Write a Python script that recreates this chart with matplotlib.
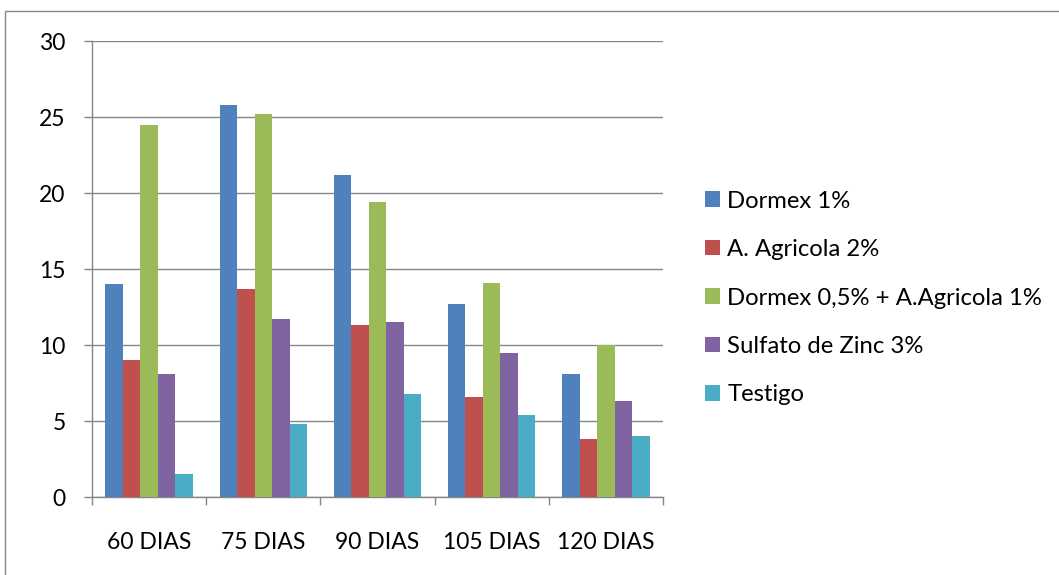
import numpy as np
import matplotlib
matplotlib.use('Agg')
import matplotlib.pyplot as plt
from matplotlib.patches import Rectangle

plt.rcParams['font.family'] = ['Lato', 'DejaVu Sans']

dias = ['60 DIAS', '75 DIAS', '90 DIAS', '105 DIAS', '120 DIAS']
dormex_1 = [14.0, 25.8, 21.2, 12.7, 8.1]
agricola_2 = [9.0, 13.7, 11.3, 6.6, 3.8]
dormex_agricola = [24.5, 25.2, 19.4, 14.1, 10.0]
sulfato_zinc = [8.1, 11.7, 11.5, 9.5, 6.3]
testigo = [1.5, 4.8, 6.8, 5.4, 4.0]

series = [dormex_1, agricola_2, dormex_agricola, sulfato_zinc, testigo]
nombres = ['Dormex 1%', 'A. Agricola 2%', 'Dormex 0,5% + A.Agricola 1%',
           'Sulfato de Zinc 3%', 'Testigo']
colores = ['#4F81BD', '#C0504D', '#9BBB59', '#8064A2', '#4BACC6']

W, H = 1059, 575
fig = plt.figure(figsize=(W / 100, H / 100), dpi=100)
ax = fig.add_axes([92 / W, 1 - 497 / H, (663 - 92) / W, (497 - 41) / H])

x = np.arange(len(dias))
w = 0.153
for i, (vals, nom, col) in enumerate(zip(series, nombres, colores)):
    ax.bar(x + (i - 2) * w, vals, width=w, color=col, label=nom, zorder=3)

ax.set_xlim(-0.5, len(dias) - 0.5)
ax.set_ylim(0, 30)
ax.set_yticks(range(0, 31, 5))
ax.grid(axis='y', color='#868686', linewidth=1.0, zorder=0)

gris = '#868686'
for s in ['top', 'right']:
    ax.spines[s].set_visible(False)
for s in ['left', 'bottom']:
    ax.spines[s].set_color(gris)
    ax.spines[s].set_linewidth(1.0)

# ticks del eje x en los limites de cada categoria
ax.set_xticks(x)
ax.set_xticklabels(dias)
ax.set_xticks(np.arange(-0.5, len(dias)), minor=True)
ax.tick_params(axis='x', which='major', length=0, pad=25, labelsize=16.5)
ax.tick_params(axis='x', which='minor', length=6, width=1.0, color=gris, direction='out')
ax.tick_params(axis='y', length=6, width=1.0, color=gris, pad=13, labelsize=16.5)

fig.legend(loc='center left', bbox_to_anchor=(705 / W, 1 - 298 / H), frameon=False,
           fontsize=17.2, handlelength=0.63, handleheight=0.63, handletextpad=0.3,
           labelspacing=1.15, borderpad=0, borderaxespad=0)

# marco exterior del grafico
fig.add_artist(Rectangle((5 / W, -0.1), 1.2, 1 - 11 / H + 0.1, transform=fig.transFigure,
                         fill=False, edgecolor=gris, linewidth=1.0))

fig.savefig('out.png', dpi=100)
